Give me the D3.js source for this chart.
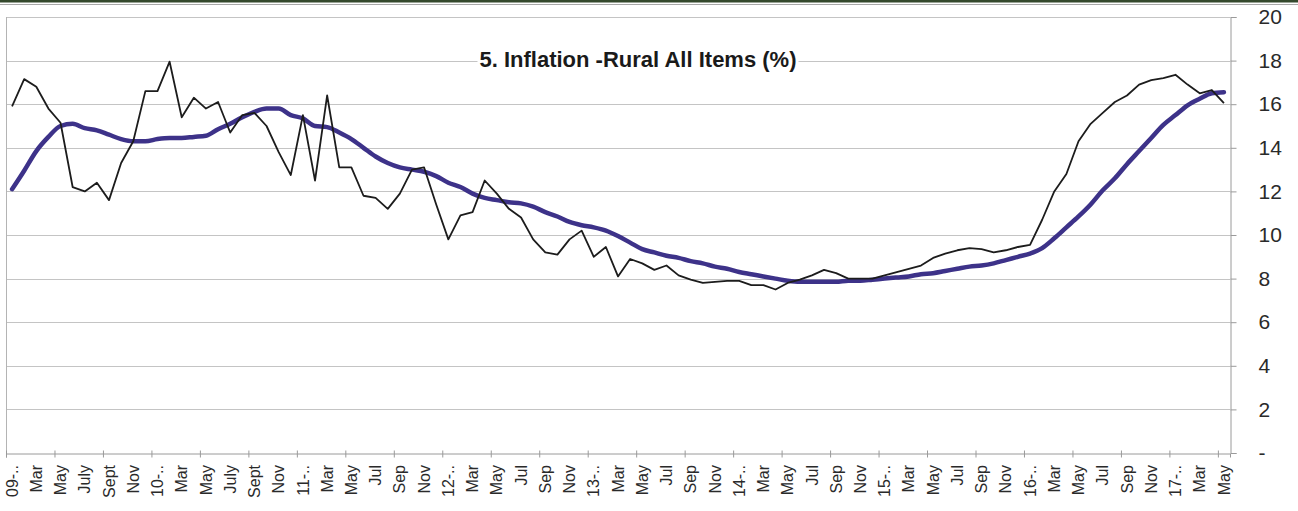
<!DOCTYPE html>
<html>
<head>
<meta charset="utf-8">
<script src="https://cdn.jsdelivr.net/npm/d3@7/dist/d3.min.js"></script>
<style>
  html, body { margin: 0; padding: 0; background: #ffffff; }
  svg { display: block; }
  text { font-family: "Liberation Sans", Arial, sans-serif; }
</style>
</head>
<body>
<svg id="chart" width="1298" height="511"></svg>
<script>
// ---- data ----
const title = "5. Inflation -Rural All Items (%)";

const yearCodes = ["09", "10", "11", "12", "13", "14", "15", "16", "17"];
const monthCodes = ["Jan", "Feb", "Mar", "Apr", "May", "Jun", "Jul", "Aug", "Sep", "Oct", "Nov", "Dec"];
const categories = [];
yearCodes.forEach(yc => monthCodes.forEach(m => categories.push(m + "-" + yc)));
categories.splice(101); // Jan-09 .. May-17

const tickLabels = [
  "09-..", "Mar", "May", "July", "Sept", "Nov",
  "10-..", "Mar", "May", "July", "Sept", "Nov",
  "11-..", "Mar", "May", "Jul", "Sep", "Nov",
  "12-..", "Mar", "May", "Jul", "Sep", "Nov",
  "13-..", "Mar", "May", "Jul", "Sep", "Nov",
  "14-..", "Mar", "May", "Jul", "Sep", "Nov",
  "15-..", "Mar", "May", "Jul", "Sep", "Nov",
  "16-..", "Mar", "May", "Jul", "Sep", "Nov",
  "17-..", "Mar", "May"
];

// monthly inflation (thin black line)
const inflation = [
  15.9, 17.15, 16.8, 15.8, 15.15, 12.2, 12.0, 12.4, 11.6, 13.3,
  14.3, 16.6, 16.6, 17.95, 15.4, 16.3, 15.8, 16.1, 14.7, 15.5,
  15.6, 15.0, 13.8, 12.75, 15.5, 12.5, 16.4, 13.1, 13.1, 11.8,
  11.7, 11.2, 11.9, 13.0, 13.1, 11.4, 9.8, 10.9, 11.05, 12.5,
  11.9, 11.2, 10.8, 9.8, 9.2, 9.1, 9.8, 10.2, 9.0, 9.45,
  8.1, 8.9, 8.7, 8.4, 8.6, 8.15, 7.95, 7.8, 7.85, 7.9,
  7.9, 7.7, 7.7, 7.5, 7.8, 7.95, 8.15, 8.4, 8.25, 8.0,
  8.0, 8.0, 8.15, 8.3, 8.45, 8.6, 8.95, 9.15, 9.3, 9.4,
  9.35, 9.2, 9.3, 9.45, 9.55, 10.7, 12.0, 12.8, 14.3, 15.1,
  15.6, 16.1, 16.4, 16.9, 17.1, 17.2, 17.35, 16.9, 16.5, 16.65,
  16.05
];

// smoothed trend (thick purple line)
const trend = [
  12.1, 12.95, 13.85, 14.5, 15.0, 15.1, 14.9, 14.8, 14.6, 14.4,
  14.3, 14.3, 14.4, 14.45, 14.45, 14.5, 14.55, 14.85, 15.1, 15.4,
  15.65, 15.8, 15.8, 15.5, 15.35, 15.0, 14.95, 14.7, 14.4, 14.0,
  13.6, 13.3, 13.1, 13.0, 12.9, 12.7, 12.4, 12.2, 11.9, 11.7,
  11.6, 11.5, 11.45, 11.3, 11.05, 10.85, 10.6, 10.45, 10.35, 10.2,
  9.95, 9.65, 9.35, 9.2, 9.05, 8.95, 8.8, 8.7, 8.55, 8.45,
  8.3, 8.2, 8.1, 8.0, 7.9, 7.85, 7.85, 7.85, 7.85, 7.9,
  7.9, 7.95, 8.0, 8.05, 8.1, 8.2, 8.25, 8.35, 8.45, 8.55,
  8.6, 8.7, 8.85, 9.0, 9.15, 9.4, 9.85, 10.35, 10.85, 11.4,
  12.05, 12.6, 13.25, 13.85, 14.45, 15.05, 15.5, 15.95, 16.25, 16.5,
  16.55
];

const yTicks = [0, 2, 4, 6, 8, 10, 12, 14, 16, 18, 20];

// ---- layout ----
const svg = d3.select("#chart");
const plotL = 6, plotR = 1230, plotT = 17, plotB = 453;

// top frame
svg.append("rect").attr("x", 0).attr("y", 0).attr("width", 1298).attr("height", 2.5).attr("fill", "#34492d");
svg.append("line").attr("x1", 0).attr("x2", 1298).attr("y1", 4.5).attr("y2", 4.5)
  .attr("stroke", "#a8a8a8").attr("stroke-width", 1);

const x = d3.scaleBand().domain(categories).range([plotL, plotR]).paddingInner(0).paddingOuter(0);
const xi = d3.scaleLinear().domain([0, categories.length]).range([plotL, plotR]);
const y = d3.scaleLinear().domain([0, 20]).range([plotB, plotT]);
const cx = c => x(c) + x.bandwidth() / 2;

// gridlines
svg.append("g").selectAll("line").data(yTicks.filter(d => d > 0)).join("line")
  .attr("x1", plotL).attr("x2", plotR)
  .attr("y1", d => Math.round(y(d)) + 0.5).attr("y2", d => Math.round(y(d)) + 0.5)
  .attr("stroke", "#c4c4c4").attr("stroke-width", 1);

// left plot border
svg.append("line").attr("x1", plotL + 0.5).attr("x2", plotL + 0.5).attr("y1", plotT).attr("y2", plotB)
  .attr("stroke", "#b4b4b4").attr("stroke-width", 1);

// right axis
const yAxis = svg.append("g").attr("transform", `translate(${plotR + 0.5},0)`)
  .call(d3.axisRight(y).tickValues(yTicks).tickSize(6).tickPadding(22)
    .tickFormat(d => d === 0 ? "-" : String(d)));
yAxis.select(".domain").attr("stroke", "#9a9a9a");
yAxis.selectAll(".tick line").attr("stroke", "#9a9a9a");
yAxis.selectAll("text").attr("font-size", 21).attr("fill", "#2a2a2a")
  .style("font-family", "'Liberation Sans', Arial, sans-serif");

// bottom axis: boundary ticks
const xTickAxis = svg.append("g").attr("transform", `translate(0,${plotB + 0.5})`)
  .call(d3.axisBottom(xi).tickValues(d3.range(0, categories.length, 4)).tickSize(4).tickFormat(""));
xTickAxis.select(".domain").attr("stroke", "#9a9a9a");
xTickAxis.selectAll(".tick line").attr("stroke", "#9a9a9a").attr("y1", -3);

// bottom axis: labels
const labelCats = categories.filter((c, i) => i % 2 === 0);
const xAxis = svg.append("g").attr("transform", `translate(0,${plotB})`)
  .call(d3.axisBottom(x).tickValues(labelCats).tickSize(0)
    .tickFormat((c, i) => tickLabels[i]));
xAxis.select(".domain").remove();
xAxis.selectAll("text")
  .attr("transform", "rotate(-90)")
  .attr("x", -12).attr("y", 0).attr("dy", "0.35em")
  .style("text-anchor", "end")
  .attr("font-size", 16).attr("fill", "#2a2a2a")
  .style("font-family", "'Liberation Sans', Arial, sans-serif");

// lines
svg.append("path").datum(trend)
  .attr("d", d3.line().x((d, i) => cx(categories[i])).y(d => y(d)).curve(d3.curveMonotoneX))
  .attr("fill", "none").attr("stroke", "#3d3289").attr("stroke-width", 4.5)
  .attr("stroke-linejoin", "round").attr("stroke-linecap", "round");
svg.append("path").datum(inflation)
  .attr("d", d3.line().x((d, i) => cx(categories[i])).y(d => y(d)))
  .attr("fill", "none").attr("stroke", "#1c1c1c").attr("stroke-width", 1.8)
  .attr("stroke-linejoin", "round");

// title with white backing
const tg = svg.append("g");
const tt = tg.append("text").attr("x", 638).attr("y", 67).attr("text-anchor", "middle")
  .attr("font-size", 22).attr("font-weight", "bold").attr("fill", "#1a1a1a").text(title);
const bb = tt.node().getBBox();
tg.insert("rect", "text").attr("x", bb.x - 2).attr("y", bb.y).attr("width", bb.width + 4).attr("height", bb.height)
  .attr("fill", "#ffffff");
</script>
</body>
</html>
